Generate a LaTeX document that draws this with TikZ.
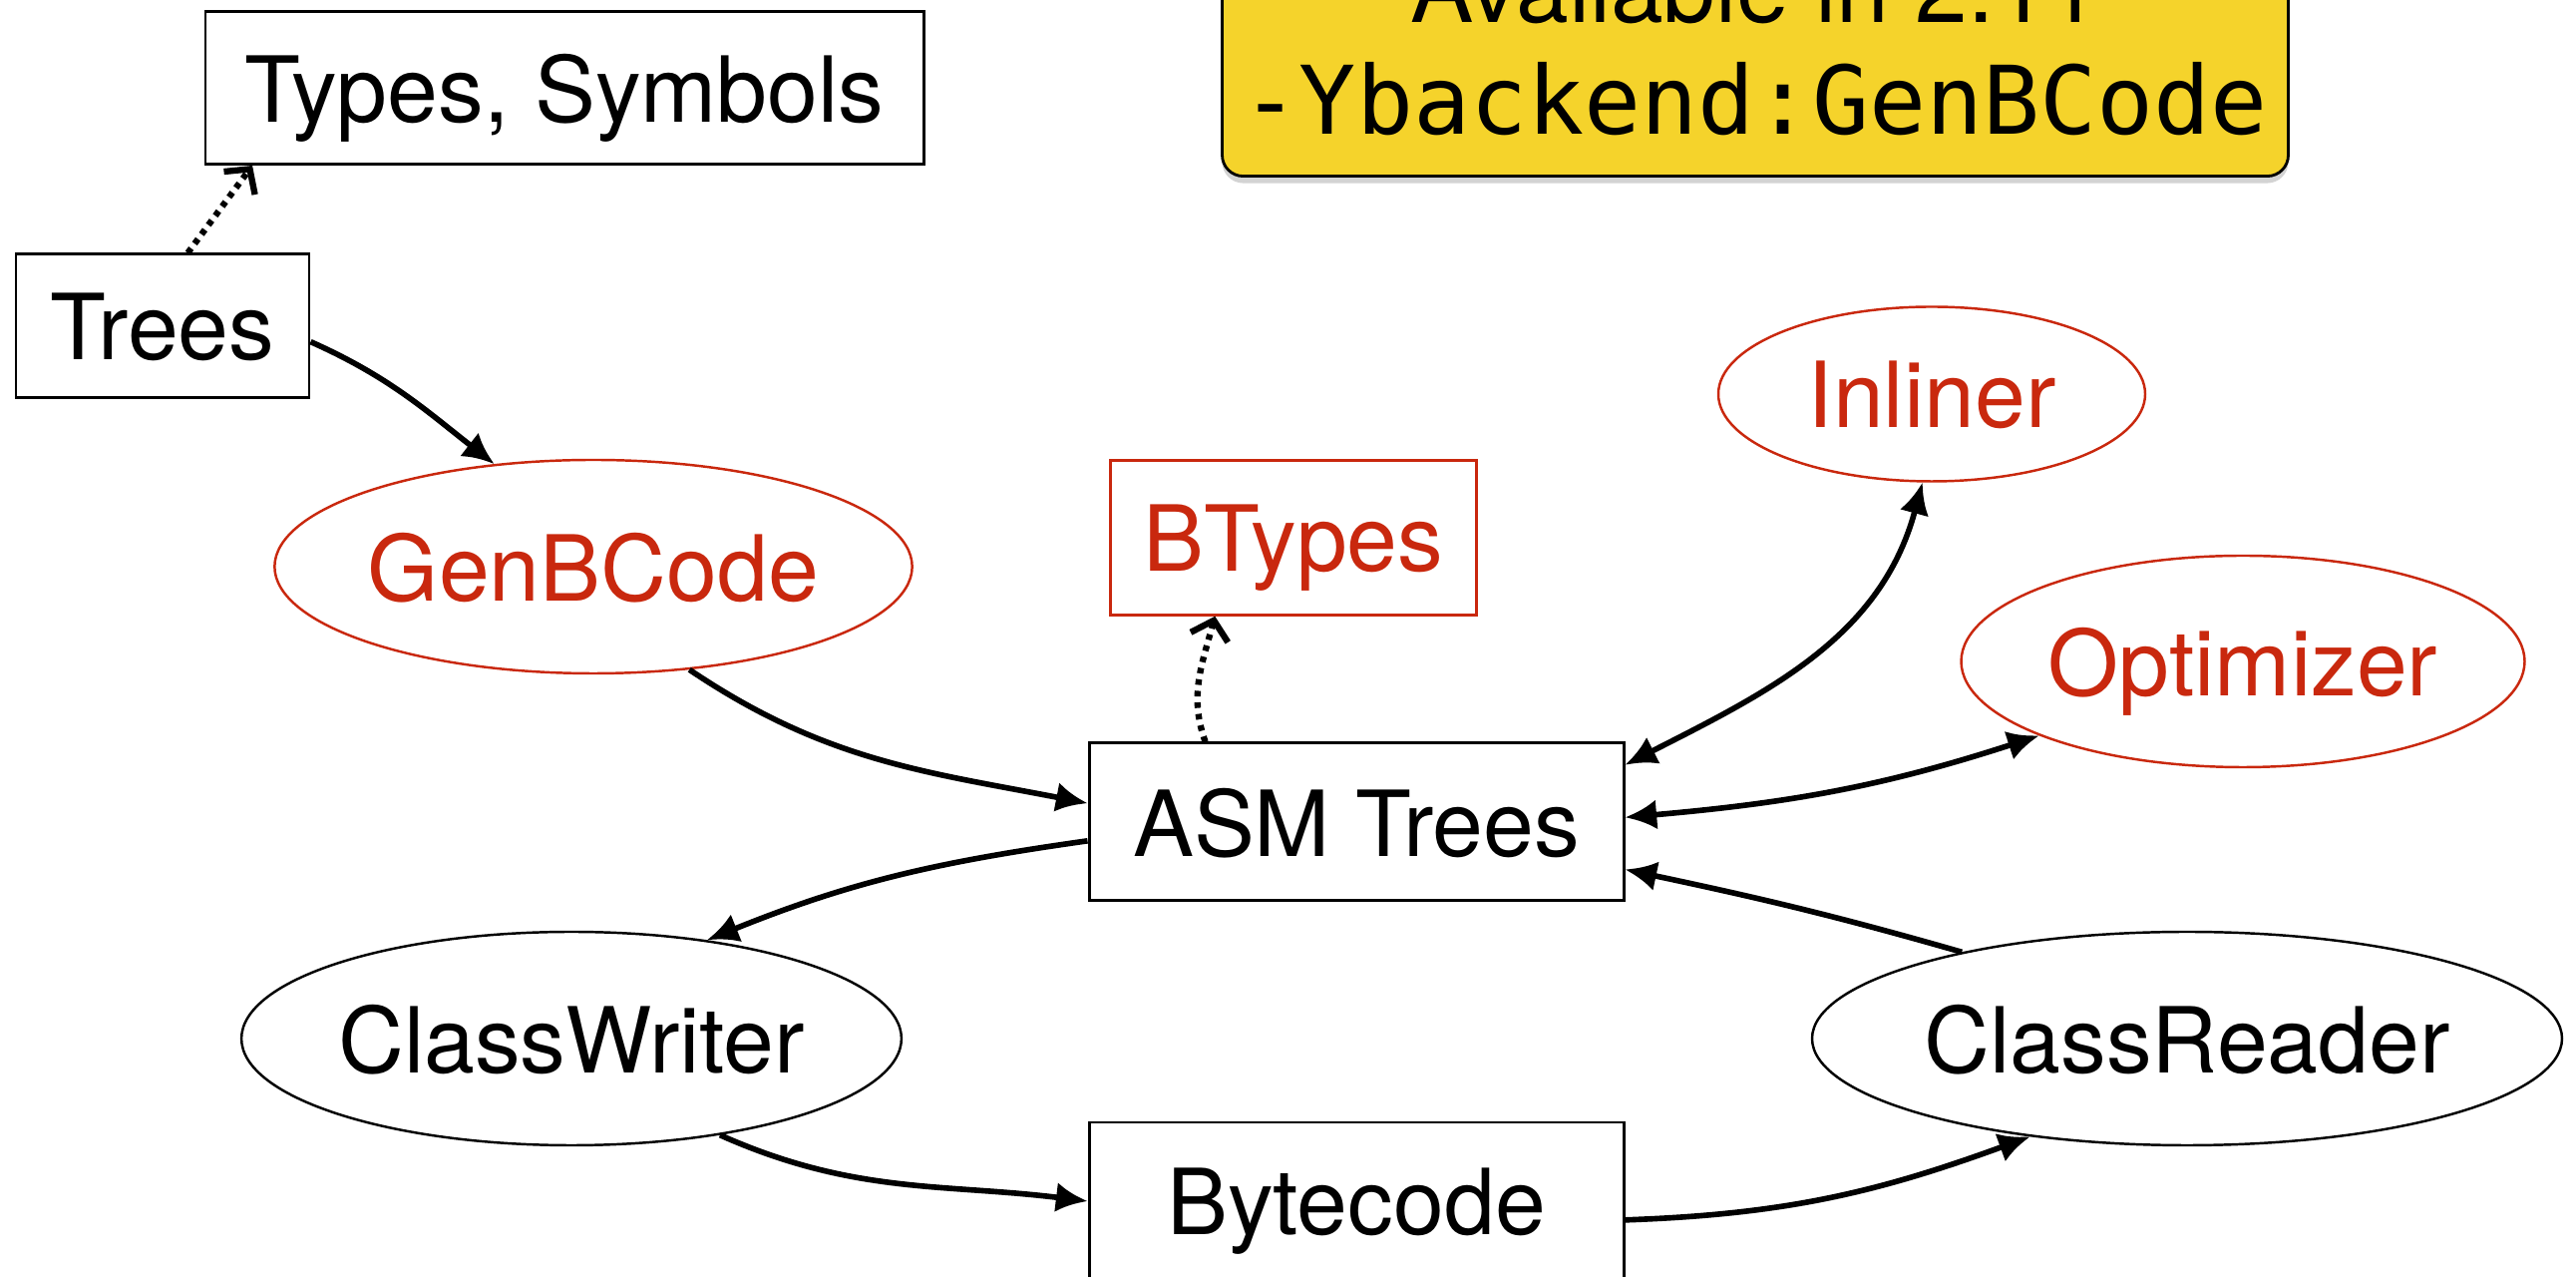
\documentclass[tikz,border=0pt]{standalone}
\usepackage{fontspec}
\setmainfont{TeX Gyre Heros}
\setmonofont{DejaVu Sans Mono}
\usetikzlibrary{shapes.geometric,shadows,arrows.meta}
\definecolor{optred}{RGB}{201,40,14}
\definecolor{flagyellow}{RGB}{245,211,43}
\begin{document}
\begin{tikzpicture}[
    every node/.style={font=\fontsize{26}{31}\selectfont},
    tbox/.style={draw, line width=0.85pt, rectangle, text depth=0pt},
    rbox/.style={draw=optred, text=optred, line width=0.7pt, rectangle, text depth=0pt},
    toval/.style={draw, line width=0.7pt, ellipse, inner sep=0pt, text depth=0pt},
    roval/.style={draw=optred, text=optred, line width=0.7pt, ellipse, inner sep=0pt, text depth=0pt},
    conn/.style={>={Latex[length=9pt, width=8.5pt]}, ->, line width=1.6pt},
    uses/.style={-{Straight Barb[length=5pt, width=11pt]}, line width=1.8pt, dash pattern=on 1.6pt off 1.7pt},
    flag/.style={draw, fill=flagyellow, rounded corners=6pt, line width=0.8pt,
        drop shadow={shadow xshift=0pt, shadow yshift=-0.07cm, opacity=0.35}}
]
    \useasboundingbox (0, 0) rectangle (25.83, -12.80);

    \node[tbox, minimum width=7.20cm, minimum height=1.53cm] (types) at (5.66, -0.88) {Types, Symbols};
    \node[tbox, minimum width=2.94cm, minimum height=1.44cm] (trees) at (1.63, -3.27) {Trees};
    \node[flag, anchor=south, minimum width=10.69cm, minimum height=2.64cm, align=center,
        font=\fontsize{27}{32}\selectfont] (avail) at (17.60, -1.78)
        {Available in 2.11\\\texttt{-Ybackend:GenBCode}};

    \node[roval, minimum width=6.39cm, minimum height=2.14cm] (genb) at (5.95, -5.68) {GenBCode};
    \node[rbox, minimum width=3.67cm, minimum height=1.55cm] (btypes) at (12.97, -5.39) {BTypes};
    \node[roval, minimum width=4.28cm, minimum height=1.75cm] (inliner) at (19.37, -3.95) {Inliner};
    \node[roval, minimum width=5.65cm, minimum height=2.12cm] (opt) at (22.49, -6.63) {Optimizer};

    \node[tbox, minimum width=5.36cm, minimum height=1.58cm] (asm) at (13.60, -8.24) {ASM Trees};
    \node[toval, minimum width=6.60cm, minimum height=2.14cm] (cw) at (5.73, -10.41) {ClassWriter};
    \node[toval, minimum width=7.52cm, minimum height=2.14cm] (cr) at (21.93, -10.41) {ClassReader};
    \node[tbox, minimum width=5.36cm, minimum height=1.58cm] (bc) at (13.60, -12.04) {Bytecode};

    % dependencies
    \draw[uses] (trees.71) -- (types.194);
    \draw[uses] (asm.152) to[out=110, in=-105] (btypes.-135);

    % pipeline
    \draw[conn] (trees.-6) to[out=-24, in=142] (genb.134);
    \draw[conn] (genb.-47) to[out=-34, in=169] (asm.176);
    \draw[conn] (asm.184) to[out=188, in=22] (cw.36);
    \draw[conn] (cw.-33) to[out=-24, in=173] (bc.west);
    \draw[conn] (bc.-4) to[out=2, in=-160] (cr.212);
    \draw[conn] (cr.159) to[out=164, in=-12] (asm.-10);

    % optimizations
    \draw[conn, <->] (asm.12) to[out=27, in=-105] (inliner.-96);
    \draw[conn, <->] (asm.1) to[out=5, in=-162] (opt.200);
\end{tikzpicture}
\end{document}
